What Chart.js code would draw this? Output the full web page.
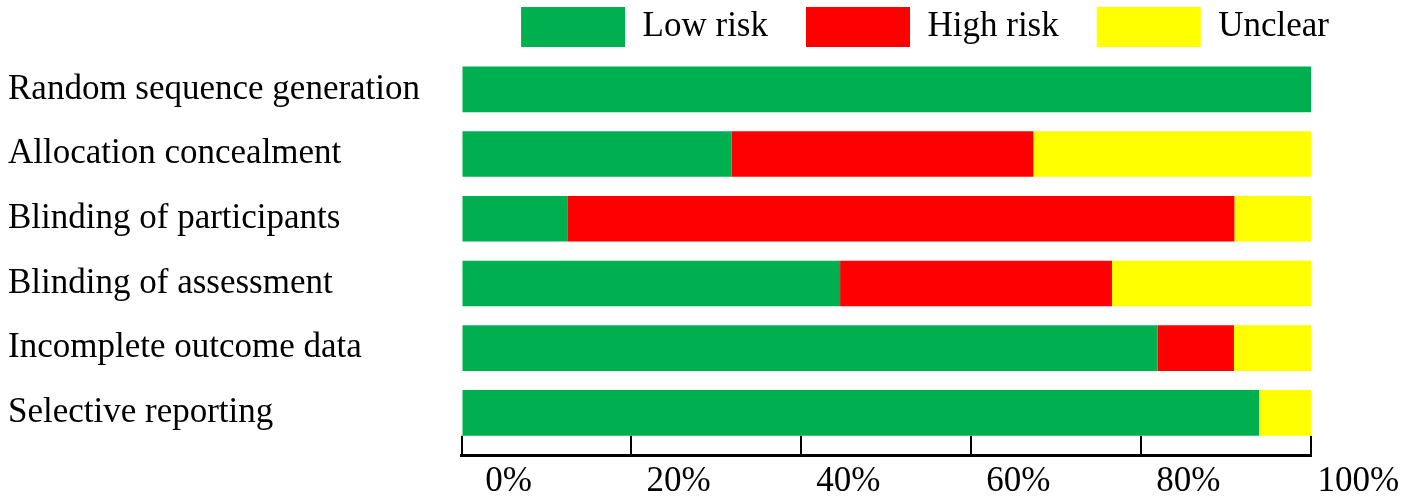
<!DOCTYPE html>
<html>
<head>
<meta charset="utf-8">
<script src="https://cdn.jsdelivr.net/npm/chart.js@4.4.1/dist/chart.umd.min.js"></script>
<style>
  html, body { margin: 0; padding: 0; background: #fff; }
  #riskChart { display: block; }
</style>
</head>
<body>
<canvas id="riskChart" width="1417" height="496"></canvas>
<script>
// risk of bias summary, percent of studies per domain
const domains = [
  'Random sequence generation',
  'Allocation concealment',
  'Blinding of participants',
  'Blinding of assessment',
  'Incomplete outcome data',
  'Selective reporting'
];
const lowRisk = [100, 31.8, 12.45, 44.55, 81.9, 93.85];
const highRisk = [0, 35.5, 78.5, 32.0, 9.0, 0];
const unclearRisk = [0, 32.7, 9.05, 23.45, 9.1, 6.15];
const xTickLabels = ['0%', '20%', '40%', '60%', '80%', '100%'];

const serif = "'Liberation Serif', 'Times New Roman', serif";

const ctx = document.getElementById('riskChart').getContext('2d');
const riskChart = new Chart(ctx, {
  type: 'bar',
  data: {
    labels: domains,
    datasets: [
      { label: 'Low risk', data: lowRisk, backgroundColor: '#00B050' },
      { label: 'High risk', data: highRisk, backgroundColor: '#FF0000' },
      { label: 'Unclear', data: unclearRisk, backgroundColor: '#FFFF00' }
    ]
  },
  options: {
    indexAxis: 'y',
    responsive: false,
    animation: false,
    datasets: {
      bar: { categoryPercentage: 1, barPercentage: 0.705, borderWidth: 0 }
    },
    layout: { padding: { top: -31, left: 8, right: 50, bottom: 0 } },
    plugins: {
      tooltip: { enabled: false },
      legend: {
        align: 'end',
        labels: {
          boxWidth: 104,
          boxHeight: 40,
          padding: 38,
          color: '#000',
          font: { family: serif, size: 35 }
        }
      }
    },
    scales: {
      x: {
        stacked: true,
        min: 0,
        max: 100,
        grid: {
          display: true,
          drawOnChartArea: false,
          drawTicks: true,
          tickLength: -20,
          color: '#000',
          lineWidth: 2
        },
        border: { display: true, color: '#000', width: 3 },
        ticks: {
          stepSize: 20,
          padding: 25,
          labelOffset: 47,
          maxRotation: 0,
          autoSkip: false,
          color: '#000',
          font: { family: serif, size: 35 },
          callback: (v, i) => xTickLabels[i]
        },
        afterFit: (s) => { s.paddingRight = 105.7; s.height = 40.3; }
      },
      y: {
        stacked: true,
        position: 'left',
        weight: 1,
        stack: 'rows',
        stackWeight: 389,
        grid: { display: false },
        border: { display: false },
        ticks: {
          crossAlign: 'far',
          autoSkip: false,
          color: '#000',
          font: { family: serif, size: 35 }
        },
        afterFit: (s) => { s.width = 453.5; }
      },
      // empty strip under the last bar, so the axis sits below the bars
      yGap: {
        type: 'linear',
        axis: 'y',
        position: 'left',
        weight: 0,
        display: false,
        stack: 'rows',
        stackWeight: 10.5
      }
    }
  }
});
</script>
</body>
</html>
